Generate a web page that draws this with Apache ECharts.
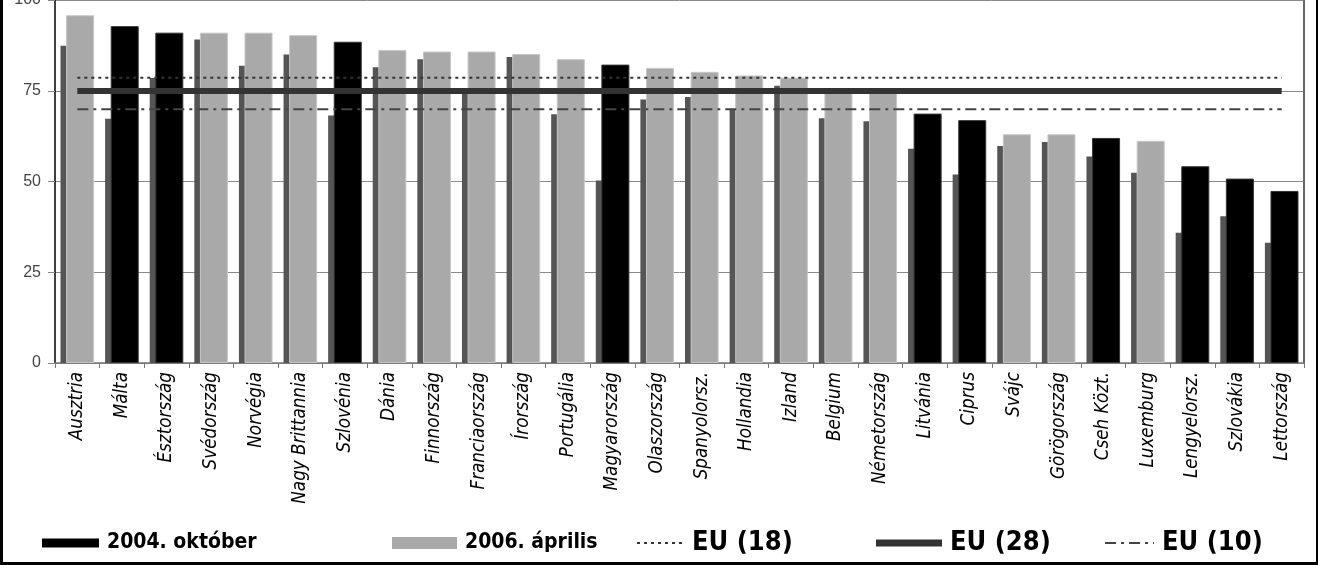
<!DOCTYPE html>
<html>
<head>
<meta charset="utf-8">
<script src="https://cdn.jsdelivr.net/npm/echarts@6/dist/echarts.min.js"></script>
<style>
html,body{margin:0;padding:0;background:#fff;}
#chart{width:1318px;height:565px;}
</style>
</head>
<body>
<div id="chart"></div>
<script>
// ---- data ----
const categories = ['Ausztria','Málta','Észtország','Svédország','Norvégia','Nagy Brittannia','Szlovénia','Dánia','Finnország','Franciaország','Írország','Portugália','Magyarország','Olaszország','Spanyolorsz.','Hollandia','Izland','Belgium','Németország','Litvánia','Ciprus','Svájc','Görögország','Cseh Közt.','Luxemburg','Lengyelorsz.','Szlovákia','Lettország'];
const values2004 = [87.4, 67.3, 78.5, 89.1, 81.9, 85.0, 68.2, 81.5, 83.7, 74.5, 84.3, 68.5, 50.3, 72.6, 73.3, 69.9, 76.4, 67.4, 66.6, 59.0, 51.9, 59.8, 60.9, 56.9, 52.4, 35.9, 40.4, 33.1];
const values2006 = [95.8, 92.8, 91.0, 91.0, 91.0, 90.3, 88.5, 86.2, 85.8, 85.8, 85.1, 83.7, 82.2, 81.3, 80.2, 79.2, 78.6, 75.0, 74.8, 68.7, 66.9, 63.0, 63.0, 62.0, 61.2, 54.2, 50.8, 47.4];
const newMember = [false, true, true, false, false, false, true, false, false, false, false, false, true, false, false, false, false, false, false, true, true, false, false, true, false, true, true, true];
const eu18 = 78.6;
const eu28 = 74.9;
const eu10 = 69.9;
const yTicks = [0, 25, 50, 75, 100];
const seriesNames = ['2004. október', '2006. április', 'EU (18)', 'EU (28)', 'EU (10)'];

// ---- font selection ----
const cv = document.createElement('canvas').getContext('2d');
function w(font, txt){ cv.font = font; return cv.measureText(txt).width; }
function has(fam){ return w("italic 100px '" + fam + "', monospace", 'Nagy Brittannia') !== w('italic 100px monospace', 'Nagy Brittannia'); }
const labelFam = has('Liberation Sans Narrow') ? 'Liberation Sans Narrow' : (has('DejaVu Sans Condensed') ? 'DejaVu Sans Condensed' : 'sans-serif');
const labelSize = Math.round(132 / w("italic 100px '" + labelFam + "'", 'Nagy Brittannia') * 100 * 10) / 10;
const legFam = has('DejaVu Sans Condensed') ? 'DejaVu Sans Condensed' : 'DejaVu Sans';

const chart = echarts.init(document.getElementById('chart'), null, {renderer: 'canvas'});

function legendAt(name, left, itemWidth, itemHeight, fontSize, extra) {
  return Object.assign({
    data: [name],
    left: left,
    top: 528,
    padding: 0,
    itemWidth: itemWidth,
    itemHeight: itemHeight,
    selectedMode: false,
    textStyle: {fontFamily: legFam, fontWeight: 'bold', fontSize: fontSize, color: '#000', lineHeight: 30, padding: [0, 0, 0, 3]}
  }, extra || {});
}
const noSymbol = {color: 'rgba(0,0,0,0)', borderColor: 'rgba(0,0,0,0)', borderWidth: 0, opacity: 0};

const option = {
  animation: false,
  backgroundColor: '#fff',
  grid: {left: 55, right: 14, top: 0, bottom: 202, containLabel: false, outerBoundsMode: 'none'},
  legend: [
    legendAt(seriesNames[0], 42, 57, 9, 21, {data: [{name: seriesNames[0], icon: 'rect', itemStyle: {color: '#000'}}]}),
    legendAt(seriesNames[1], 392, 65, 12, 21, {data: [{name: seriesNames[1], icon: 'rect', itemStyle: {color: '#a9a9a9'}}]}),
    legendAt(seriesNames[2], 636, 47, 10, 27, {data: [{name: seriesNames[2], itemStyle: noSymbol}]}),
    legendAt(seriesNames[3], 876, 66, 7, 27, {data: [{name: seriesNames[3], icon: 'rect', itemStyle: {color: '#333'}}]}),
    legendAt(seriesNames[4], 1104, 49, 10, 27, {data: [{name: seriesNames[4], itemStyle: noSymbol}]})
  ],
  xAxis: {
    type: 'category',
    data: categories,
    axisLine: {lineStyle: {color: '#777', width: 1.5}},
    axisTick: {show: true, length: 5, lineStyle: {color: '#777'}},
    axisLabel: {rotate: 90, margin: 9, fontFamily: labelFam, fontStyle: 'italic', fontSize: labelSize, color: '#000'}
  },
  yAxis: [{
    type: 'value', min: yTicks[0], max: yTicks[yTicks.length - 1], interval: 25,
    axisLine: {show: true, lineStyle: {color: '#000', width: 1.5}},
    axisTick: {show: true, length: 7, lineStyle: {color: '#888'}},
    axisLabel: {margin: 14, fontFamily: 'Liberation Sans', fontSize: 16, color: '#444'},
    splitLine: {lineStyle: {color: '#8a8a8a', width: 1}}
  }, {
    type: 'value', position: 'right', min: 0, max: 100, interval: 25,
    axisLine: {show: true, lineStyle: {color: '#666', width: 2}},
    axisTick: {show: false}, axisLabel: {show: false}, splitLine: {show: false}
  }],
  series: [
    {
      name: seriesNames[0], type: 'bar', data: values2004, barWidth: 28, barGap: '-80%',
      itemStyle: {color: '#555'}, z: 2
    },
    {
      name: seriesNames[1], type: 'bar', barWidth: 28,
      data: values2006.map((v, i) => ({value: v, itemStyle: newMember[i] ? {color: '#000', borderColor: '#333', borderWidth: 1} : {color: '#a9a9a9', borderColor: '#c6c6c6', borderWidth: 1}})),
      itemStyle: {color: '#a9a9a9'}, z: 3
    },
    {
      name: seriesNames[2], type: 'line', data: categories.map(() => eu18), symbol: 'none',
      lineStyle: {color: '#333', width: 2, type: [3, 4]}, z: 5
    },
    {
      name: seriesNames[3], type: 'line', data: categories.map(() => eu28), symbol: 'none',
      lineStyle: {color: '#333', width: 6}, z: 6
    },
    {
      name: seriesNames[4], type: 'line', data: categories.map(() => eu10), symbol: 'none',
      lineStyle: {color: '#444', width: 2, type: [11, 5, 3, 5]}, z: 5
    }
  ],
  graphic: [
    {type: 'rect', left: 0, top: 0, shape: {width: 3, height: 565}, style: {fill: '#000'}, z: 100},
    {type: 'rect', left: 1316, top: 0, shape: {width: 2, height: 565}, style: {fill: '#000'}, z: 100},
    {type: 'rect', left: 0, top: 562, shape: {width: 1318, height: 3}, style: {fill: '#000'}, z: 100}
  ]
};
chart.setOption(option);
</script>
</body>
</html>
